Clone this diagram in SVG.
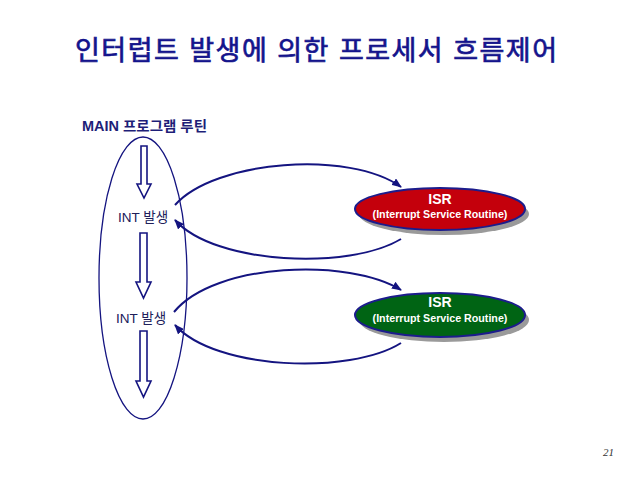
<svg xmlns="http://www.w3.org/2000/svg" width="640" height="480" viewBox="0 0 640 480">
<defs>
<style>
.title{font-family:"Liberation Sans","Noto Sans CJK KR",sans-serif;font-size:27px;fill:#14148c;stroke:#14148c;stroke-width:0.7}
.lbl{font-family:"Liberation Sans","Noto Sans CJK KR",sans-serif;font-size:13.5px;fill:#20205a}
.main{font-family:"Liberation Sans","Noto Sans CJK KR",sans-serif;font-size:14px;font-weight:bold;fill:#1e1e78}
.isr{font-family:"Liberation Sans",sans-serif;font-weight:bold;fill:#ffffff;text-anchor:middle}
.conn{fill:none;stroke:#141480;stroke-width:2}
.blk{fill:#ffffff;stroke:#141480;stroke-width:1.6;stroke-linejoin:miter}
.shadow{fill:#9a9a9a}
.node{stroke:#1c1c8c;stroke-width:2}
</style>
<marker id="ah" markerWidth="10" markerHeight="8" refX="9" refY="4" orient="auto" markerUnits="userSpaceOnUse">
<path d="M0,0 L10,4 L0,8 Z" fill="#141480"/>
</marker>
</defs>
<rect width="640" height="480" fill="#ffffff"/>
<text class="title" x="75" y="60" textLength="482" lengthAdjust="spacing">인터럽트 발생에 의한 프로세서 흐름제어</text>

<g id="main">
<text class="main" x="82" y="131" textLength="125" lengthAdjust="spacingAndGlyphs">MAIN 프로그램 루틴</text>
<ellipse cx="143" cy="278" rx="44" ry="141" fill="none" stroke="#141480" stroke-width="1.3"/>
<path class="blk" d="M141,146 H147 V184 H151 L144,198 L137,184 H141 Z"/>
<path class="blk" d="M140,233 H147 V282 H151 L143.5,298 L136,282 H140 Z"/>
<path class="blk" d="M140,331 H147 V381 H151 L143.5,397 L136,381 H140 Z"/>
</g>
<g id="int1"><text class="lbl" x="118" y="222">INT 발생</text></g>
<g id="int2"><text class="lbl" x="116" y="323">INT 발생</text></g>

<g id="isr1">
<ellipse class="shadow" cx="444" cy="214" rx="85" ry="21"/>
<ellipse class="node" cx="440" cy="209" rx="85" ry="21" fill="#c4000c"/>
<text class="isr" x="440" y="204" font-size="14">ISR</text>
<text class="isr" x="440" y="218" font-size="10.7">(Interrupt Service Routine)</text>
</g>
<g id="isr2">
<ellipse class="shadow" cx="444" cy="320" rx="85" ry="22"/>
<ellipse class="node" cx="440" cy="315" rx="85" ry="22" fill="#006414"/>
<text class="isr" x="440" y="307" font-size="14">ISR</text>
<text class="isr" x="440" y="322" font-size="10.7">(Interrupt Service Routine)</text>
</g>

<g id="connectors">
<path class="conn" marker-end="url(#ah)" d="M175,205 C215,160 350,150 401,187"/>
<path class="conn" marker-end="url(#ah)" d="M401,239 C350,270 215,265 175,220"/>
<path class="conn" marker-end="url(#ah)" d="M174,312 C215,262 350,258 401,290"/>
<path class="conn" marker-end="url(#ah)" d="M401,343 C350,375 215,370 175,325"/>
</g>

<text x="603" y="456" font-family="Liberation Serif,serif" font-style="italic" font-size="11" fill="#333333">21</text>
</svg>
